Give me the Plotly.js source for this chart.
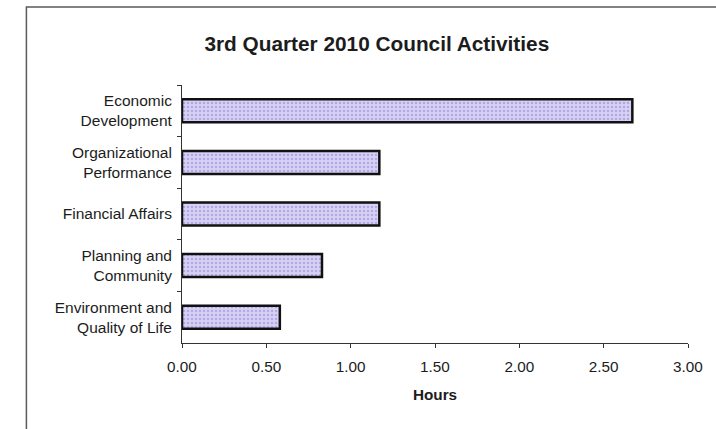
<!DOCTYPE html>
<html>
<head>
<meta charset="utf-8">
<script src="https://cdn.plot.ly/plotly-3.0.1.min.js"></script>
<style>html,body{margin:0;padding:0;background:#fff;}#chart{width:716px;height:429px;}</style>
</head>
<body>
<div id="chart"></div>
<script>
const categories = [
  "Economic<br>Development",
  "Organizational<br>Performance",
  "Financial Affairs",
  "Planning and<br>Community",
  "Environment and<br>Quality of Life"
];
const hours = [2.67, 1.17, 1.17, 0.83, 0.58];
const xTickValues = [0, 0.5, 1, 1.5, 2, 2.5, 3];
const xTickLabels = ["0.00", "0.50", "1.00", "1.50", "2.00", "2.50", "3.00"];
const chartTitle = "3rd Quarter 2010 Council Activities";
const xTitle = "Hours";

const FONT = "'Liberation Sans', Arial, sans-serif";
const INK = "#1c1c1c";

const trace = {
  type: "bar",
  orientation: "h",
  x: hours,
  y: categories,
  width: 0.445,
  marker: {
    color: "#d3cdf1",
    line: {color: "#111111", width: 2.5},
    pattern: {shape: ".", fgcolor: "#b2a8e6", bgcolor: "#d7d2f3", size: 4, solidity: 0.3}
  },
  hoverinfo: "skip"
};

const layout = {
  width: 716,
  height: 429,
  margin: {l: 181.7, r: 28, t: 85, b: 85.7, pad: 0},
  paper_bgcolor: "#ffffff",
  plot_bgcolor: "#ffffff",
  showlegend: false,
  font: {family: FONT, color: INK, size: 15.5},
  title: {
    text: "<b>" + chartTitle + "</b>",
    font: {family: FONT, size: 20.8, color: INK},
    xref: "paper", x: 0.385, xanchor: "center",
    yref: "container", y: 0.899, yanchor: "middle"
  },
  xaxis: {
    range: [0, 3],
    tickvals: xTickValues,
    ticktext: xTickLabels,
    showgrid: false,
    zeroline: false,
    showline: true,
    linecolor: "#333333",
    linewidth: 1,
    ticks: "outside",
    ticklen: 4,
    tickcolor: "#333333",
    ticklabelstandoff: 6,
    tickfont: {family: FONT, size: 15.3, color: INK},
    title: {text: "<b>" + xTitle + "</b>", font: {family: FONT, size: 15.3, color: INK}, standoff: 14},
    fixedrange: true
  },
  yaxis: {
    type: "category",
    autorange: "reversed",
    showgrid: false,
    zeroline: false,
    showline: true,
    linecolor: "#333333",
    linewidth: 1,
    ticks: "outside",
    tickson: "boundaries",
    ticklen: 4,
    tickcolor: "#333333",
    ticklabelstandoff: 6,
    tickfont: {family: FONT, size: 15.5, color: INK},
    fixedrange: true
  },
  shapes: [{
    type: "rect", xref: "paper", yref: "paper",
    x0: -0.3075, x1: 1.3, y0: -0.6, y1: 1.302,
    line: {color: "#5a5a5a", width: 1.5},
    fillcolor: "rgba(0,0,0,0)",
    layer: "below"
  }]
};

Plotly.newPlot("chart", [trace], layout, {staticPlot: true, displayModeBar: false});
</script>
</body>
</html>
